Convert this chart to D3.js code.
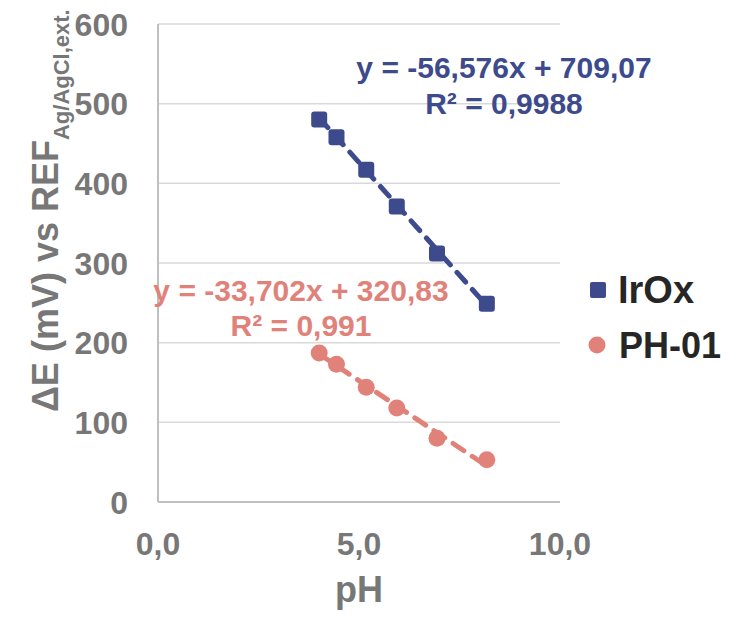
<!DOCTYPE html>
<html>
<head>
<meta charset="utf-8">
<script src="https://cdn.jsdelivr.net/npm/d3@7"></script>
<style>
  html, body { margin: 0; padding: 0; background: #fff; }
  svg { display: block; font-family: "Liberation Sans", Arial, sans-serif; font-weight: bold; }
</style>
</head>
<body>
<svg id="chart" width="743" height="617"></svg>
<script>
// ---- data ----
const seriesNames = ["IrOx", "PH-01"];
const pH = [4.01, 4.44, 5.18, 5.94, 6.94, 8.18];
const irOx = [480, 458, 417, 371, 312, 249];
const ph01 = [187, 173, 144, 118, 80, 53];
const irOxFit = { slope: -56.576, intercept: 709.07, r2: "0,9988", label: "y = -56,576x + 709,07" };
const ph01Fit = { slope: -33.702, intercept: 320.83, r2: "0,991", label: "y = -33,702x + 320,83" };
const xTicks = [0, 5, 10];
const xTickLabels = ["0,0", "5,0", "10,0"];
const yTicks = [0, 100, 200, 300, 400, 500, 600];

const colors = { "IrOx": "#3d4a8c", "PH-01": "#e0827a" };
const gray = "#777777";

const svg = d3.select("#chart");
const x = d3.scaleLinear().domain([0, 10]).range([158, 560]);
const y = d3.scaleLinear().domain([0, 600]).range([502, 24]);

// gridlines
svg.append("g").selectAll("line").data(yTicks.filter(d => d > 0)).join("line")
  .attr("x1", x(0)).attr("x2", x(10))
  .attr("y1", d => y(d)).attr("y2", d => y(d))
  .attr("stroke", "#d9d9d9").attr("stroke-width", 1.5);

// axes lines
svg.append("line").attr("x1", x(0)).attr("x2", x(10)).attr("y1", y(0)).attr("y2", y(0))
  .attr("stroke", "#bfbfbf").attr("stroke-width", 2);
svg.append("line").attr("x1", x(0)).attr("x2", x(0)).attr("y1", y(0)).attr("y2", y(600))
  .attr("stroke", "#bfbfbf").attr("stroke-width", 2);

// y tick labels
svg.append("g").selectAll("text").data(yTicks).join("text")
  .attr("x", 128).attr("y", d => y(d)).attr("dy", "0.36em")
  .attr("text-anchor", "end").attr("font-size", 32).attr("fill", gray)
  .text(d => d);

// x tick labels
svg.append("g").selectAll("text").data(xTicks).join("text")
  .attr("x", d => x(d)).attr("y", 555)
  .attr("text-anchor", "middle").attr("font-size", 32).attr("fill", gray)
  .text((d, i) => xTickLabels[i]);

// axis titles
svg.append("text").attr("x", x(5)).attr("y", 602).attr("text-anchor", "middle")
  .attr("font-size", 36).attr("fill", gray).text("pH");

const yt = svg.append("text").attr("transform", "translate(58,412) rotate(-90)")
  .attr("font-size", 36).attr("fill", gray);
yt.append("tspan").text("\u0394E (mV) vs REF");
yt.append("tspan").attr("font-size", 22).attr("dy", 11).text("Ag/AgCl,ext.");

// trendlines
function trend(fit, xs, color) {
  const x0 = d3.min(xs), x1 = d3.max(xs);
  svg.append("line")
    .attr("x1", x(x0)).attr("y1", y(fit.slope * x0 + fit.intercept))
    .attr("x2", x(x1)).attr("y2", y(fit.slope * x1 + fit.intercept))
    .attr("stroke", color).attr("stroke-width", 5)
    .attr("stroke-dasharray", "13,10").attr("stroke-linecap", "round");
}

// markers
const sq = 16;
svg.append("g").selectAll("rect").data(pH).join("rect")
  .attr("x", (d) => x(d) - sq / 2).attr("y", (d, i) => y(irOx[i]) - sq / 2)
  .attr("width", sq).attr("height", sq).attr("rx", 3)
  .attr("fill", colors["IrOx"]);
svg.append("g").selectAll("circle").data(pH).join("circle")
  .attr("cx", d => x(d)).attr("cy", (d, i) => y(ph01[i])).attr("r", 8.5)
  .attr("fill", colors["PH-01"]);

trend(irOxFit, pH, colors["IrOx"]);
trend(ph01Fit, pH, colors["PH-01"]);

// equation labels
function eq(fit, cx, y1, y2, color) {
  const g = svg.append("g").attr("fill", color).attr("font-size", 30).attr("text-anchor", "middle");
  g.append("text").attr("x", cx).attr("y", y1).text(fit.label);
  g.append("text").attr("x", cx).attr("y", y2).text("R\u00B2 = " + fit.r2);
}
eq(irOxFit, 504, 78, 114, colors["IrOx"]);
eq(ph01Fit, 301, 301, 336, colors["PH-01"]);

// legend
const leg = svg.append("g");
leg.append("rect").attr("x", 590).attr("y", 282).attr("width", 16).attr("height", 16).attr("rx", 2)
  .attr("fill", colors["IrOx"]);
leg.append("text").attr("x", 618).attr("y", 303).attr("font-size", 38).attr("fill", "#262626").text(seriesNames[0]);
leg.append("circle").attr("cx", 597).attr("cy", 345).attr("r", 8.5).attr("fill", colors["PH-01"]);
leg.append("text").attr("x", 619).attr("y", 358).attr("font-size", 36).attr("fill", "#262626").text(seriesNames[1]);
</script>
</body>
</html>
